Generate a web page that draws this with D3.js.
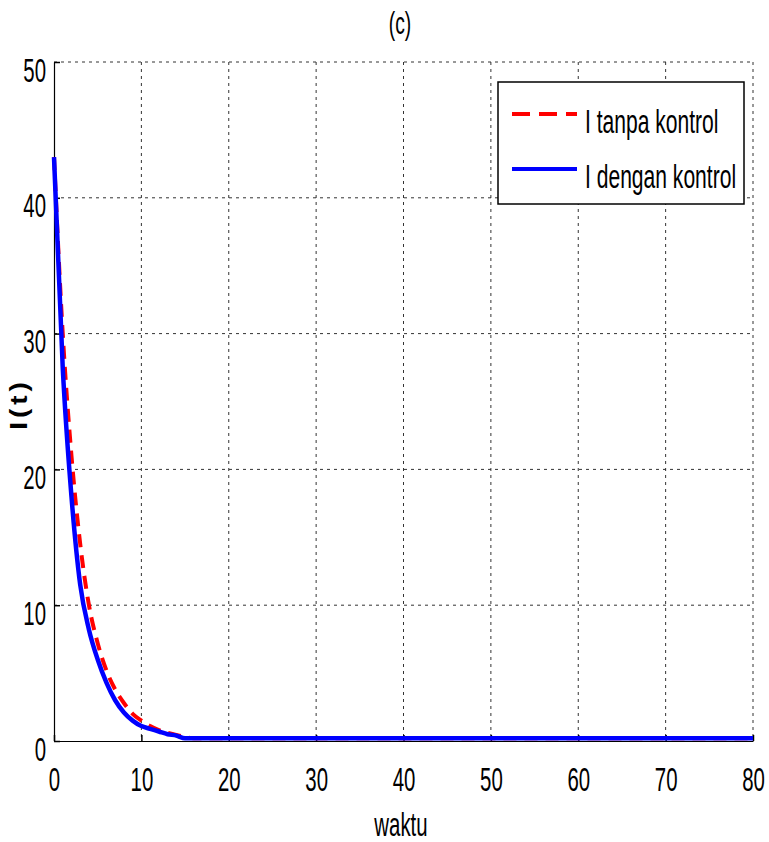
<!DOCTYPE html>
<html>
<head>
<meta charset="utf-8">
<script src="https://cdn.jsdelivr.net/npm/d3@7"></script>
<style>
  html, body { margin: 0; padding: 0; background: #fff; }
  svg { display: block; }
  text { font-family: "Liberation Sans", Arial, sans-serif; fill: #000; }
</style>
</head>
<body>
<svg id="chart" width="769" height="842"></svg>
<script>
// ---- data ----
const timeValues = [0, 1, 2, 3, 4, 5, 6, 7, 8, 9, 10, 11, 12, 13, 14, 15, 16, 18, 20, 30, 40, 50, 60, 70, 80];
const iTanpaKontrol = [43, 30, 21, 14.5, 10, 7.2, 5.2, 3.8, 2.8, 2.0, 1.5, 1.1, 0.8, 0.6, 0.45, 0.3, 0.2, 0.2, 0.2, 0.2, 0.2, 0.2, 0.2, 0.2, 0.2];
const iDenganKontrol = [43, 27.5, 18, 11.5, 8.2, 6.0, 4.3, 3.0, 2.1, 1.5, 1.1, 0.9, 0.7, 0.5, 0.4, 0.2, 0.2, 0.2, 0.2, 0.2, 0.2, 0.2, 0.2, 0.2, 0.2];
const xTicks = [0, 10, 20, 30, 40, 50, 60, 70, 80];
const yTicks = [0, 10, 20, 30, 40, 50];
const seriesNames = ["I tanpa kontrol", "I dengan kontrol"];
const titleText = "(c)";
const xLabel = "waktu";
const yLabel = "I(t)";

// ---- layout ----
const svg = d3.select("#chart");
const pL = 54, pR = 753, pT = 62, pB = 741;
const SX = 0.6; // horizontal condensing of the narrow font
const x = d3.scaleLinear().domain([0, 80]).range([pL, pR]);
const y = d3.scaleLinear().domain([0, 50]).range([pB, pT]);

// grid
const grid = svg.append("g");
grid.selectAll("line.v").data(xTicks.filter(d => d > 0)).join("line")
  .attr("x1", d => x(d)).attr("x2", d => x(d)).attr("y1", pT).attr("y2", pB)
  .attr("stroke", "#333").attr("stroke-width", 1).attr("stroke-dasharray", "3,4");
grid.selectAll("line.h").data(yTicks.filter(d => d > 0)).join("line")
  .attr("x1", pL).attr("x2", pR).attr("y1", d => y(d)).attr("y2", d => y(d))
  .attr("stroke", "#333").attr("stroke-width", 1).attr("stroke-dasharray", "3,4");

// axes
const xAxis = svg.append("g").attr("transform", `translate(0,${pB})`)
  .call(d3.axisBottom(x).tickValues(xTicks).tickSize(-6).tickPadding(0).tickSizeOuter(0));
const yAxis = svg.append("g").attr("transform", `translate(${pL},0)`)
  .call(d3.axisLeft(y).tickValues(yTicks).tickSize(-6).tickPadding(0).tickSizeOuter(0));
[xAxis, yAxis].forEach(a => {
  a.select(".domain").attr("stroke", "#000").attr("stroke-width", 1.2);
  a.selectAll(".tick line").attr("stroke", "#000").attr("stroke-width", 1.5);
  a.selectAll("text").attr("font-size", 34).attr("font-family", "'Liberation Sans', Arial, sans-serif");
});
xAxis.selectAll(".tick text")
  .attr("y", null).attr("dy", null)
  .attr("transform", `translate(0,50) scale(${SX},1)`)
  .attr("text-anchor", "middle");
yAxis.selectAll(".tick text")
  .attr("x", null).attr("dy", null)
  .attr("transform", `translate(-8,19) scale(${SX},1)`)
  .attr("text-anchor", "end");

// lines
const pts = (vals) => timeValues.map((t, i) => [t, vals[i]]);
const lineGen = d3.line().x(d => x(d[0])).y(d => y(d[1])).curve(d3.curveMonotoneX);
svg.append("path").datum(pts(iTanpaKontrol)).attr("d", lineGen)
  .attr("fill", "none").attr("stroke", "#ff0000").attr("stroke-width", 4)
  .attr("stroke-dasharray", "13,8");
svg.append("path").datum(pts(iDenganKontrol)).attr("d", lineGen)
  .attr("fill", "none").attr("stroke", "#0000ff").attr("stroke-width", 4.5);

// legend
const lg = svg.append("g");
lg.append("rect").attr("x", 498).attr("y", 82).attr("width", 246).attr("height", 122)
  .attr("fill", "#fff").attr("stroke", "#000").attr("stroke-width", 1.5);
const legendItems = [
  { name: seriesNames[0], color: "#ff0000", dash: "18,9", yy: 114 },
  { name: seriesNames[1], color: "#0000ff", dash: null, yy: 169 }
];
legendItems.forEach(it => {
  lg.append("line").attr("x1", 512).attr("x2", 577).attr("y1", it.yy).attr("y2", it.yy)
    .attr("stroke", it.color).attr("stroke-width", 4)
    .attr("stroke-dasharray", it.dash);
  lg.append("text").attr("transform", `translate(585,${it.yy + 19}) scale(${SX + 0.02},1)`)
    .attr("font-size", 34).text(it.name);
});

// titles
svg.append("text").attr("transform", `translate(400,34) scale(${SX},1)`)
  .attr("text-anchor", "middle").attr("font-size", 32).text(titleText);
svg.append("text").attr("transform", `translate(401,836) scale(${SX},1)`)
  .attr("text-anchor", "middle").attr("font-size", 34).text(xLabel);
svg.append("text").attr("transform", `translate(27,404) rotate(-90) scale(1,0.85)`)
  .attr("text-anchor", "middle").attr("font-size", 28).attr("font-weight", "bold")
  .attr("letter-spacing", 4).text(yLabel);
</script>
</body>
</html>
